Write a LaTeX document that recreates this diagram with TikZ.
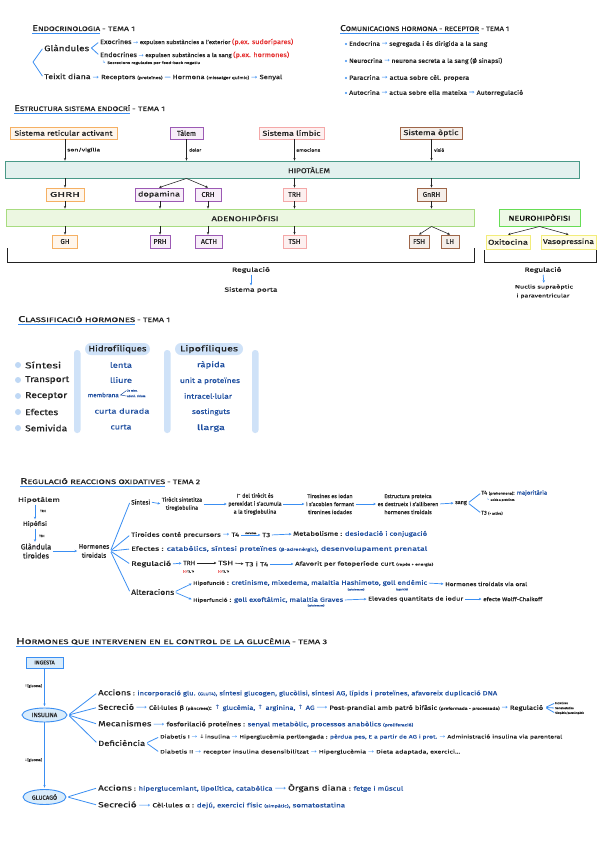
\documentclass[tikz,border=0pt]{standalone}
\usepackage{fontspec}
\usepackage{amsmath}
\usepackage{graphicx}
\setmainfont{Fira Sans}[UprightFeatures={FakeBold=0.35}]
\newfontfamily\symf{DejaVu Sans}
\usetikzlibrary{arrows.meta,shapes.geometric}
\definecolor{ink}{HTML}{222222}
\definecolor{ablue}{HTML}{3A8EF2}
\definecolor{tblue}{HTML}{1F4FA0}
\definecolor{ared}{HTML}{E53030}
\definecolor{orng}{HTML}{F5B063}
\definecolor{orngf}{HTML}{FFF6EC}
\definecolor{purp}{HTML}{9C5AB4}
\definecolor{purpf}{HTML}{F7EEF9}
\definecolor{pnk}{HTML}{F4A8A8}
\definecolor{pnkf}{HTML}{FDF0F0}
\definecolor{brwn}{HTML}{9E6649}
\definecolor{brwnf}{HTML}{F5EEE9}
\definecolor{yell}{HTML}{F2EC7A}
\definecolor{yellf}{HTML}{FFFDE8}
\definecolor{tealb}{HTML}{4A9A88}
\definecolor{tealf}{HTML}{E3F1EE}
\definecolor{grn}{HTML}{A8DC80}
\definecolor{grnf}{HTML}{ECF7E1}
\definecolor{ngrn}{HTML}{66DD55}
\definecolor{ngrnf}{HTML}{EDF9E6}
\definecolor{pale}{HTML}{CFE2F8}
\definecolor{paleb}{HTML}{BFD8F5}
\definecolor{ingf}{HTML}{D9ECFB}
\newcommand\ra{{\symf\textcolor{ablue}{→}}}
\newcommand\rab{{\symf→}}
\newcommand\lra{{\symf\textcolor{ablue}{⟶}}}
\newcommand\lrab{{\symf⟶}}
\newcommand\fitw[2]{\resizebox{#1pt}{\height}{#2}}
\newcommand\fsz[1]{\fontsize{#1}{#1}\selectfont}
\newcommand\bl[1]{\textcolor{tblue}{#1}}
\newcommand\tny[1]{{\fsz{3.5}#1}}
\newcommand\ttl[2]{{\fsz{8.5}#1}{\fsz{6.5}#2}}
\tikzset{
 bx/.style={draw, line width=0.9pt, inner sep=1pt, font=\fsz{7}, minimum height=12pt, text=ink},
 bo/.style={bx, draw=orng, fill=orngf},
 bp/.style={bx, draw=purp, fill=purpf},
 bk/.style={bx, draw=pnk, fill=pnkf},
 bw/.style={bx, draw=brwn, fill=brwnf},
 by/.style={bx, draw=yell, fill=yellf},
 ar/.style={-{Stealth[length=2.6pt,width=2.4pt]}, line width=0.55pt, draw=ink},
 bar/.style={-{Stealth[length=2.6pt,width=2.4pt]}, line width=0.7pt, draw=ablue, shorten <=1.5pt, shorten >=1.5pt},
 bln/.style={line width=0.8pt, draw=ablue, shorten <=1pt, shorten >=1pt},
 ul/.style={line width=0.9pt, draw=ablue},
 lb/.style={anchor=west, inner sep=0pt, font=\fsz{4.5}, text=ink},
 tx/.style={anchor=west, inner sep=0pt, text=ink},
 tc/.style={inner sep=0pt, text=ink, align=center},
 tt/.style={anchor=base west, inner sep=0pt, text=ink},
 bar3/.style={fill=pale, rounded corners=3pt},
}
\begin{document}
\begin{tikzpicture}[x=1pt,y=-1pt]
\useasboundingbox (0,0) rectangle (599,848);
\fill[white] (0,0) rectangle (599,848);

% ===== Section 1 =====
\node[tt] (T1) at (32,31) {\fitw{68}{\ttl{E}{NDOCRINOLOGIA}}};
\node[tt] (T1b) at ([xshift=1.5pt]T1.base east) {\fitw{33}{\fsz{6.5}- TEMA 1}};
\draw[ul] ([yshift=-2pt]T1.base west) -- ([yshift=-2pt]T1.base east);
\node[tx, font=\fsz{8}] (gl) at (44,48) {\fitw{45}{Glàndules}};
\node[tx, font=\fsz{5.5}] (ex) at (100,42) {\fitw{193}{{\fsz{6.5}Exocrines} \ra{} expulsen substàncies a l'exterior {\fsz{6.5}\textcolor{ared}{(p.ex. sudorípares)}}}};
\node[tx, font=\fsz{5.5}] (en) at (100,55) {\fitw{189}{{\fsz{6.5}Endocrines} \ra{} expulsen substàncies a la sang {\fsz{6.5}\textcolor{ared}{(p.ex. hormones)}}}};
\node[tx, font=\fsz{3.5}] (fb) at (102,63) {\fitw{98}{{\symf\textcolor{ablue}{↳}} Secrecions regulades per feed-back negatiu}};
\node[tx, font=\fsz{6}] (td) at (44,77) {\fitw{238}{{\fsz{7}Teixit diana} \ra{} Receptors {\fsz{4}(proteïnes)} \textcolor{ablue}{—} Hormona {\fsz{4}(missatger químic)} \ra{} Senyal}};
\coordinate (b1) at (33,62);
\draw[bln] ([xshift=-1pt]gl.west) -- (b1) -- ([xshift=-1pt]td.west);
\draw[bln] ([xshift=-1pt]ex.west) -- ([xshift=2pt]gl.east) -- ([xshift=-1pt]en.west);

% ===== Section 2 =====
\node[tt] (T2) at (340,31) {\fitw{139}{\ttl{C}{OMUNICACIONS HORMONA - RECEPTOR}}};
\node[tt] (T2b) at ([xshift=1.5pt]T2.base east) {\fitw{28}{\fsz{6.5}- TEMA 1}};
\draw[ul] ([yshift=-2pt]T2.base west) -- ([yshift=-2pt]T2.base east);
\node[tx, font=\fsz{6}] (c1) at (349,44) {\fitw{138}{Endocrina \ra{} segregada i és dirigida a la sang}};
\node[tx, font=\fsz{6}] (c2) at (349,61) {\fitw{153}{Neurocrina \ra{} neurona secreta a la sang (Ø sinapsi)}};
\node[tx, font=\fsz{6}] (c3) at (349,78) {\fitw{120}{Paracrina \ra{} actua sobre cèl. propera}};
\node[tx, font=\fsz{6}] (c4) at (349,93) {\fitw{174}{Autocrina \ra{} actua sobre ella mateixa {\symf\textcolor{ablue}{⇒}} Autorregulació}};
\foreach \c in {c1,c2,c3,c4} \fill[ablue] ([xshift=-3pt]\c.west) circle (1.1pt);

% ===== Section 3 =====
\node[tt] (T3) at (14,111) {\fitw{116}{\ttl{E}{STRUCTURA SISTEMA ENDOCRÍ}}};
\node[tt] (T3b) at ([xshift=1.5pt]T3.base east) {\fitw{33}{\fsz{6.5}- TEMA 1}};
\draw[ul] ([yshift=-2pt]T3.base west) -- ([yshift=-2pt]T3.base east);

\node[bo, minimum width=107pt] (sra) at (63.5,133) {\fitw{98}{Sistema reticular activant}};
\node[bp, minimum width=33pt] (tal) at (186.5,133) {Tàlem};
\node[bk, minimum width=65pt] (lim) at (291.5,133) {\fitw{58}{Sistema límbic}};
\node[bw, minimum width=62pt] (opt) at (431,133) {\fitw{55}{Sistema òptic}};

\node[draw=tealb, fill=tealf, line width=0.9pt, minimum width=574pt, minimum height=17pt, inner sep=0pt] (hip) at (292,169.5) {};
\node[tc, font=\fsz{7}] (hipl) at (309,170) {\fitw{42}{HIPOTÀLEM}};

\node[bo, minimum width=38pt, minimum height=13pt] (ghrh) at (65,194.5) {\fitw{30}{GHRH}};
\node[bp, minimum width=48pt, minimum height=13pt] (dopa) at (159,194.5) {\fitw{42}{dopamina}};
\node[bp, minimum width=26pt, minimum height=13pt] (crh) at (208,194.5) {CRH};
\node[bk, minimum width=23pt, minimum height=13pt] (trh) at (294.5,194.5) {TRH};
\node[bw, minimum width=29pt, minimum height=13pt] (gnrh) at (431.5,194.5) {GnRH};

\node[draw=grn, fill=grnf, line width=0.9pt, minimum width=468pt, minimum height=17pt, inner sep=0pt] (ade) at (240,217.5) {};
\node[tc, font=\fsz{7}] (adel) at (245,218) {\fitw{67}{ADENOHIPÒFISI}};
\node[draw=ngrn, fill=ngrnf, line width=1pt, minimum width=81pt, minimum height=17pt, inner sep=0pt, font=\fsz{7}] (neu) at (539.5,217.5) {\fitw{62}{NEUROHIPÒFISI}};

\node[bo, minimum width=25pt, minimum height=13pt] (gh) at (65,241.5) {GH};
\node[bp, minimum width=20pt, minimum height=13pt] (prh) at (160,241.5) {PRH};
\node[bp, minimum width=27pt, minimum height=13pt] (acth) at (209,241.5) {ACTH};
\node[bk, minimum width=23pt, minimum height=13pt] (tsh) at (294.5,241.5) {TSH};
\node[bw, minimum width=20pt, minimum height=13pt] (fsh) at (419,241.5) {FSH};
\node[bw, minimum width=18pt, minimum height=13pt] (lh) at (450,241.5) {LH};
\node[by, minimum width=44pt, minimum height=14pt] (oxi) at (508,242) {\fitw{40}{Oxitocina}};
\node[by, minimum width=55pt, minimum height=14pt] (vas) at (568.5,242) {\fitw{51}{Vasopressina}};

\draw[ar] (sra.south -| ghrh) -- (hip.north -| ghrh);
\draw[ar] (tal.south) -- (tal.south |- hip.north);
\draw[ar] (lim.south -| trh) -- (hip.north -| trh);
\draw[ar] (opt.south -| gnrh) -- (hip.north -| gnrh);
\node[lb] (l1) at (67,150) {\fitw{33}{son/vigília}};
\node[lb] (l2) at (189,150) {\fitw{12}{dolor}};
\node[lb] (l3) at (296,150) {\fitw{24}{emocions}};
\node[lb] (l4) at (434,150) {\fitw{10}{visió}};

\draw[ar] (hip.south -| ghrh) -- (ghrh.north);
\draw[ar] (hip.south -| tal) -- (dopa.north);
\draw[ar] (hip.south -| tal) -- (crh.north);
\draw[ar] (hip.south -| trh) -- (trh.north);
\draw[ar] (hip.south -| gnrh) -- (gnrh.north);
\draw[ar] (ghrh.south) -- (ade.north -| ghrh);
\draw[ar] (dopa.south -| prh) -- (ade.north -| prh);
\draw[ar] (crh.south) -- (ade.north -| crh);
\draw[ar] (trh.south) -- (ade.north -| trh);
\draw[ar] (gnrh.south) -- (ade.north -| gnrh);
\draw[ar] (ade.south -| gh) -- (gh.north);
\draw[ar] (ade.south -| prh) -- (prh.north);
\draw[ar] (ade.south -| crh) -- (acth.north -| crh);
\draw[ar] (ade.south -| tsh) -- (tsh.north);
\draw[ar] (ade.south -| gnrh) -- (fsh.north);
\draw[ar] (ade.south -| gnrh) -- (lh.north);
\draw[ar] (neu.south) -- (oxi.north);
\draw[ar] (neu.south) -- (vas.north);

\draw[line width=0.7pt, ink] (7,248) -- (7,262) -- (474,262) -- (474,248);
\draw[line width=0.7pt, ink] (484,250) -- (484,262) -- (596,262) -- (596,250);

\node[tc, font=\fsz{6}] (rg1) at (251,270) {\fitw{38}{Regulació}};
\node[tc, font=\fsz{6}] (sp) at (251,290) {\fitw{53}{Sistema porta}};
\draw[bar] (rg1.south) -- (sp.north);
\node[tc, font=\fsz{6}] (rg2) at (543,270) {\fitw{37}{Regulació}};
\node[tc, font=\fsz{5}] (nc1) at (544,287) {\fitw{58}{Nuclis supraòptic}};
\node[tc, font=\fsz{5}] (nc2) at (543,296) {\fitw{53}{i paraventricular}};
\draw[bar] (rg2.south) -- (nc1.north);

% ===== Section 4 =====
\node[tt] (T4) at (18,322) {\fitw{117}{\ttl{C}{LASSIFICACIÓ HORMONES}}};
\node[tt] (T4b) at ([xshift=1.5pt]T4.base east) {\fitw{33}{\fsz{6.5}- TEMA 1}};
\draw[ul] ([yshift=-2pt]T4.base west) -- ([yshift=-2pt]T4.base east);
\fill[bar3] (74,350) rectangle (80.5,433);
\fill[bar3] (164,350) rectangle (170.5,433);
\fill[bar3] (252,350) rectangle (258.5,433);
\node[fill=pale, rounded corners=6pt, minimum width=65pt, minimum height=12pt, inner sep=0pt, font=\fsz{8}, text=ink] (hid) at (117.5,349) {\fitw{58}{Hidrofíliques}};
\node[fill=pale, rounded corners=6pt, minimum width=68pt, minimum height=12pt, inner sep=0pt, font=\fsz{8}, text=ink] (lip) at (209,349) {\fitw{58}{Lipofíliques}};
\node[tx, font=\fsz{8.5}] (rs) at (25,365) {\fitw{36}{Síntesi}};
\node[tx, font=\fsz{8.5}] (rt) at (25,380) {\fitw{44}{Transport}};
\node[tx, font=\fsz{8.5}] (rr) at (25,396) {\fitw{42}{Receptor}};
\node[tx, font=\fsz{8.5}] (re) at (25,412) {\fitw{33}{Efectes}};
\node[tx, font=\fsz{8.5}] (rsv) at (25,428) {\fitw{42}{Semivida}};
\foreach \r in {rs,rt,rr,re,rsv} \fill[paleb] ([xshift=-7pt]\r.west) circle (3pt);
\node[tc, font=\fsz{7.5}, text=tblue] (h1) at (121,365) {\fitw{22}{lenta}};
\node[tc, font=\fsz{7.5}, text=tblue] (h2) at (121,380) {\fitw{22}{lliure}};
\node[tc, font=\fsz{6}, text=tblue, anchor=east] (h3) at (119,395) {\fitw{31}{membrana}};
\node[tx, font=\fsz{2.8}, text=tblue] (m1) at (127,390.5) {2n miss.};
\node[tx, font=\fsz{2.8}, text=tblue] (m2) at (127,396) {adenil. ciclasa};
\draw[tblue, line width=0.5pt] ([xshift=-0.5pt]m1.west) -- ([xshift=1.5pt]h3.east) -- ([xshift=-0.5pt]m2.west);
\node[tc, font=\fsz{7}, text=tblue] (h4) at (122,411) {\fitw{55}{curta durada}};
\node[tc, font=\fsz{7.5}, text=tblue] (h5) at (121,427) {\fitw{21}{curta}};
\node[tc, font=\fsz{7.5}, text=tblue] (p1) at (211,365) {\fitw{28}{ràpida}};
\node[tc, font=\fsz{7}, text=tblue] (p2) at (210,381) {\fitw{60}{unit a proteïnes}};
\node[tc, font=\fsz{7}, text=tblue] (p3) at (208,396) {\fitw{48}{intracel·lular}};
\node[tc, font=\fsz{7}, text=tblue] (p4) at (211,412) {\fitw{38}{sostinguts}};
\node[tc, font=\fsz{7.5}, text=tblue] (p5) at (211,428) {\fitw{28}{llarga}};

% ===== Section 5 =====
\node[tt] (T5) at (20,484) {\fitw{145}{\ttl{R}{EGULACIÓ REACCIONS OXIDATIVES}}};
\node[tt] (T5b) at ([xshift=1.5pt]T5.base east) {\fitw{33}{\fsz{6.5}- TEMA 2}};
\draw[ul] ([yshift=-2pt]T5.base west) -- ([yshift=-2pt]T5.base east);
\node[tc, font=\fsz{6}] (hpt) at (39,500) {\fitw{42}{Hipotàlem}};
\node[tc, font=\fsz{6}] (hpf) at (35,524) {\fitw{24}{Hipòfisi}};
\node[tc, font=\fontsize{7.5}{9}\selectfont] (gld) at (36,551) {Glàndula\\tiroides};
\node[tc, font=\fontsize{6.5}{9}\selectfont] (hrm) at (94,551) {Hormones\\tiroidals};
\draw[bar] (hpt.south -| hpf) -- (hpf.north);
\draw[bar] (hpf.south) -- (gld.north -| hpf);
\node[lb, font=\fsz{3}] (ltrh) at (40,511) {TRH};
\node[lb, font=\fsz{3}] (ltsh) at (39,536) {TSH};
\draw[bar] (gld.east) -- (hrm.west);

\node[tx, font=\fsz{6.5}] (sint) at (131,502) {\fitw{19}{Síntesi}};
\node[tx, font=\fsz{6}] (tcp) at (131,535) {\fitw{108}{Tiroides conté precursors \ra{} T4}};
\node[tx, font=\fsz{6}] (t3n) at (262,535) {\fitw{8}{T3}};
\node[tx, font=\fsz{6}] (efe) at (131,549) {\fitw{296}{Efectes : \bl{catabòlics, síntesi proteïnes {\fsz{4}(β-adrenèrgic)}, desenvolupament prenatal}}};
\node[tx, font=\fsz{6.5}] (rgl) at (131,564) {\fitw{40}{Regulació}};
\node[tx, font=\fsz{7.5}] (alt) at (131,592) {\fitw{43}{Alteracions}};
\foreach \t in {sint,tcp,efe,rgl,alt} \draw[bln] ([xshift=1pt]hrm.east) -- ([xshift=-1pt]\t.west);

\node[tc, font=\fontsize{5.5}{8}\selectfont] (s1) at (182,504) {Tiròcit sintetitza\\tiroglobulina};
\node[tc, font=\fontsize{5.5}{8}\selectfont] (s2) at (255,504) {I\textsuperscript{–} del tiròcit és\\peroxidat i s'acumula\\a la tiroglobulina};
\node[tc, font=\fontsize{5.5}{8}\selectfont] (s3) at (330,504) {Tirosines es iodan\\i s'acoblen formant\\tironines iodades};
\node[tc, font=\fontsize{5.5}{8}\selectfont] (s4) at (408,504) {Estructura proteica\\es destrueix i s'alliberen\\hormones tiroidals};
\node[tc, font=\fsz{5.5}] (s5) at (461,503) {sang};
\node[tx, font=\fsz{5.5}] (t4) at (481,493) {\fitw{66}{T4 \tny{(prohormona)}: \bl{majoritària}}};
\node[tx, font=\fsz{3}] (t4b) at (487,500) {{\symf\textcolor{ablue}{↳}} unida a proteïnes};
\node[tx, font=\fsz{5.5}] (t3) at (481,513) {T3 \tny{(+ activa)}};
\draw[bar] (sint.east) -- (s1.west);
\draw[bar] (s1.east) -- (s2.west);
\draw[bar] (s2.east) -- (s3.west);
\draw[bar] (s3.east) -- (s4.west);
\draw[bar] (s4.east) -- (s5.west);
\draw[bln] ([xshift=1pt]s5.east) -- (t4.west);
\draw[bln] ([xshift=1pt]s5.east) -- (t3.west);

\draw[bar] (tcp.east) -- node[above=0.6pt, inner sep=0pt, font=\fsz{2.4}, text=ink] (dsd) {desiodasa} (t3n.west);
\node[tx, font=\fsz{6}] (met) at (293,534) {\fitw{134}{Metabolisme : \bl{desiodació i conjugació}}};
\draw[bar] (t3n.east) -- (met.west);

\node[tx, font=\fsz{6}] (trh2) at (183,563) {\fitw{12}{TRH}};
\node[tx, font=\fsz{6}] (tsh2) at (218,563) {\fitw{15}{TSH}};
\node[tx, font=\fsz{6}] (t34) at (245,564) {\fitw{23}{T3 i T4}};
\node[tx, font=\fsz{5.5}] (afv) at (295,564) {\fitw{138}{Afavorit per fotoperíode curt \tny{(repòs + energia)}}};
\node[tx, font=\fsz{2.8}] (ntrh) at (183,571.5) {\textcolor{ared}{(–)} T3, T4};
\node[tx, font=\fsz{2.8}] (ntsh) at (218,571.5) {\textcolor{ared}{(–)} T3, T4};
\draw[bar] (rgl.east) -- (trh2.west);
\draw[ar, shorten <=1.5pt, shorten >=1.5pt] (trh2.east) -- (tsh2.west);
\draw[ar, shorten <=1.5pt, shorten >=1.5pt] (tsh2.east) -- (t34.west);
\draw[bar] (t34.east) -- (afv.west);

\node[tx, font=\fsz{6}] (hpo) at (193,583) {\fitw{234}{{\fsz{5}Hipofunció} : \bl{cretinisme, mixedema, malaltia Hashimoto, goll endèmic}}};
\node[tx, font=\fsz{5.5}] (hor) at (445,584) {\fitw{82}{Hormones tiroidals via oral}};
\node[inner sep=0pt, font=\fsz{2.6}, text=tblue] (ai1) at (356,589.5) {(autoimmune)};
\node[inner sep=0pt, font=\fsz{2.6}, text=tblue] (apr) at (402,589.5) {(aparició)};
\node[tx, font=\fsz{6}] (hpr) at (193,600) {\fitw{150}{{\fsz{5}Hiperfunció} : \bl{goll exoftàlmic, malaltia Graves}}};
\node[inner sep=0pt, font=\fsz{2.6}, text=tblue] (ai2) at (316,605.5) {(autoimmune)};
\node[tx, font=\fsz{5.5}] (elv) at (368,599) {\fitw{95}{Elevades quantitats de iodur}};
\node[tx, font=\fsz{5.5}] (wlf) at (483,599) {\fitw{59}{efecte Wolff-Chaikoff}};
\draw[bar] (alt.east) -- (hpo.west);
\draw[bar] (alt.east) -- (hpr.west);
\draw[bar] (hpo.east) -- (hor.west);
\draw[bar] (hpr.east) -- (elv.west);
\draw[bar] (elv.east) -- (wlf.west);

% ===== Section 6 =====
\node[tt] (T6) at (16,644) {\fitw{274}{\ttl{H}{ORMONES QUE INTERVENEN EN EL CONTROL DE LA GLUCÈMIA}}};
\node[tt] (T6b) at ([xshift=1.5pt]T6.base east) {\fitw{35}{\fsz{6.5}- TEMA 3}};
\draw[ul] ([yshift=-2pt]T6.base west) -- ([yshift=-2pt]T6.base east);

\node[draw=ablue, fill=ingf, line width=0.9pt, minimum width=37pt, minimum height=11pt, inner sep=0pt, font=\fsz{5.5}, text=ink] (ing) at (44.5,662.5) {INGESTA};
\node[ellipse, draw=ablue, fill=ingf, line width=0.9pt, minimum width=45pt, minimum height=14pt, inner sep=0pt, font=\fsz{6}, text=ink] (ins) at (44.5,715) {INSULINA};
\node[ellipse, draw=ablue, fill=ingf, line width=0.9pt, minimum width=43pt, minimum height=15pt, inner sep=0pt, font=\fsz{6}, text=ink] (glu) at (44.5,797) {GLUCAGÓ};
\draw[bar, shorten <=0pt] (ing.south) -- (ins.north);
\draw[bar, shorten <=0pt] (ins.south) -- (glu.north);
\node[anchor=east, inner sep=0pt, font=\fsz{3.5}, text=ink] (up) at (42,686) {{\symf↑}[glucosa]};
\node[anchor=east, inner sep=0pt, font=\fsz{3.5}, text=ink] (dn) at (42,760) {{\symf↓}[glucosa]};

\node[tx, font=\fsz{6}] (acc) at (98,693) {\fitw{399}{{\fsz{7.5}Accions} : \bl{incorporació glu. {\fsz{4}(GLUT4)}, síntesi glucogen, glucòlisi, síntesi AG, lípids i proteïnes, afavoreix duplicació DNA}}};
\node[tx, font=\fsz{6}] (sec) at (98,707.5) {\fitw{445}{{\fsz{7.5}Secreció} \lra{} Cèl·lules β {\fsz{4}(pàncrees)}: \bl{{\symf↑} glucèmia, {\symf↑} arginina, {\symf↑} AG} \lra{} Post-prandial amb patró bifàsic {\fsz{4}(preformada - processada)} \ra{} Regulació}};
\node[tx, font=\fsz{2.8}] (rga) at (555,703) {Incretines};
\node[tx, font=\fsz{2.8}] (rgb) at (555,708) {Somatostatina};
\node[tx, font=\fsz{2.8}] (rgc) at (555,713) {Simpàtic/parasimpàtic};
\foreach \t in {rga,rgb,rgc} \draw[bln] ([xshift=2pt]sec.east) -- (\t.west);
\node[tx, font=\fsz{6}] (mec) at (98,724) {\fitw{315}{{\fsz{7.5}Mecanismes} \lra{} fosforilació proteïnes : \bl{senyal metabòlic, processos anabòlics {\fsz{4}(proliferació)}}}};
\node[tx, font=\fsz{7.5}] (def) at (98,743) {\fitw{47}{Deficiència}};
\node[tx, font=\fsz{5}] (d1) at (160,737) {\fitw{402}{Diabetis I \ra{} {\symf↓}insulina \ra{} Hiperglucèmia perllongada : \bl{pèrdua pes, E a partir de AG i prot.} \ra{} Administració insulina via parenteral}};
\node[tx, font=\fsz{5}] (d2) at (160,752) {\fitw{300}{Diabetis II \ra{} receptor insulina desensibilitzat \ra{} Hiperglucèmia \ra{} Dieta adaptada, exercici...}};
\foreach \t in {acc,sec,mec,def} \draw[bln] ([xshift=1pt]ins.east) -- ([xshift=-1pt]\t.west);
\draw[bln] ([xshift=1pt]def.east) -- ([xshift=-1pt]d1.west);
\draw[bln] ([xshift=1pt]def.east) -- ([xshift=-1pt]d2.west);

\node[tx, font=\fsz{6}] (ga) at (98,788) {\fitw{305}{{\fsz{7.5}Accions} : \bl{hiperglucemiant, lipolítica, catabòlica} \lra{} {\fsz{7.5}Òrgans diana} : \bl{fetge i múscul}}};
\node[tx, font=\fsz{6}] (gs) at (98,805) {\fitw{247}{{\fsz{7.5}Secreció} \lra{} Cèl·lules α : \bl{dejú, exercici físic {\fsz{4}(simpàtic)}, somatostatina}}};
\foreach \t in {ga,gs} \draw[bln] ([xshift=1pt]glu.east) -- ([xshift=-1pt]\t.west);
\end{tikzpicture}
\end{document}
